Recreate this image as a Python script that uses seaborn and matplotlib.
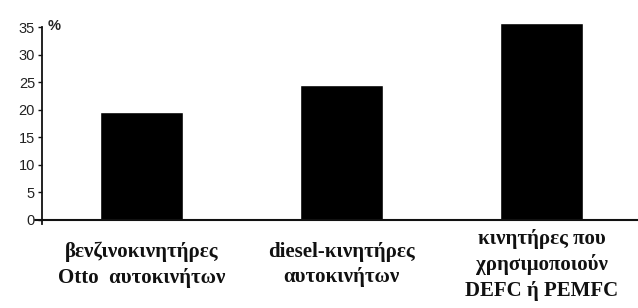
import matplotlib
matplotlib.use("Agg")
import matplotlib.pyplot as plt
import seaborn as sns
import pandas as pd

# values (percent)
categories = ["βενζινοκινητήρες\nOtto  αυτοκινήτων",
              "diesel-κινητήρες\nαυτοκινήτων",
              "κινητήρες που\nχρησιμοποιούν\nDEFC ή PEMFC"]
values = [19.6, 24.5, 35.7]
yticks = [0, 5, 10, 15, 20, 25, 30, 35]

df = pd.DataFrame({"engine": categories, "pct": values})

sns.set_style("white")
plt.rcParams['font.family'] = ['Liberation Sans', 'DejaVu Sans']

fig = plt.figure(figsize=(6.38, 3.08), dpi=100)
ax = fig.add_axes([0.0658, 0.2714, 0.9342, 0.6586])

sns.barplot(data=df, x="engine", y="pct", color="black", width=0.415,
            saturation=1, ax=ax)

ax.set_xlim(-0.4975, 2.48)
ax.set_ylim(-0.8, 36)
ax.set_xlabel("")
ax.set_ylabel("")

# axes: only the left spine, plus a baseline at zero
for s in ["top", "right", "bottom"]:
    ax.spines[s].set_visible(False)
ax.spines["left"].set_bounds(-0.8, 35)
ax.spines["left"].set_linewidth(1.3)
ax.spines["left"].set_color("#111111")
ax.axhline(0, xmin=-0.012, xmax=1, color="#111111", lw=1.5, clip_on=False)

ax.set_yticks(yticks)
ax.set_yticklabels([str(t) for t in yticks], fontsize=10.5, color="#222222")
ax.tick_params(axis="y", left=True, length=3, width=1, pad=2, color="#111111")
ax.tick_params(axis="x", bottom=False, length=0, pad=29)

for lbl in ax.get_xticklabels():
    lbl.set_fontfamily("Liberation Serif")
    lbl.set_fontweight("bold")
    lbl.set_fontsize(15)
    lbl.set_va("center")
    lbl.set_linespacing(1.35)
    lbl.set_color("#111111")

ax.annotate("%", xy=(0, 35), xycoords=("axes fraction", "data"),
            xytext=(4, 1), textcoords="offset points", va="center",
            fontsize=10.5, fontweight="bold", color="#222222")

fig.savefig("out.png", dpi=100)
